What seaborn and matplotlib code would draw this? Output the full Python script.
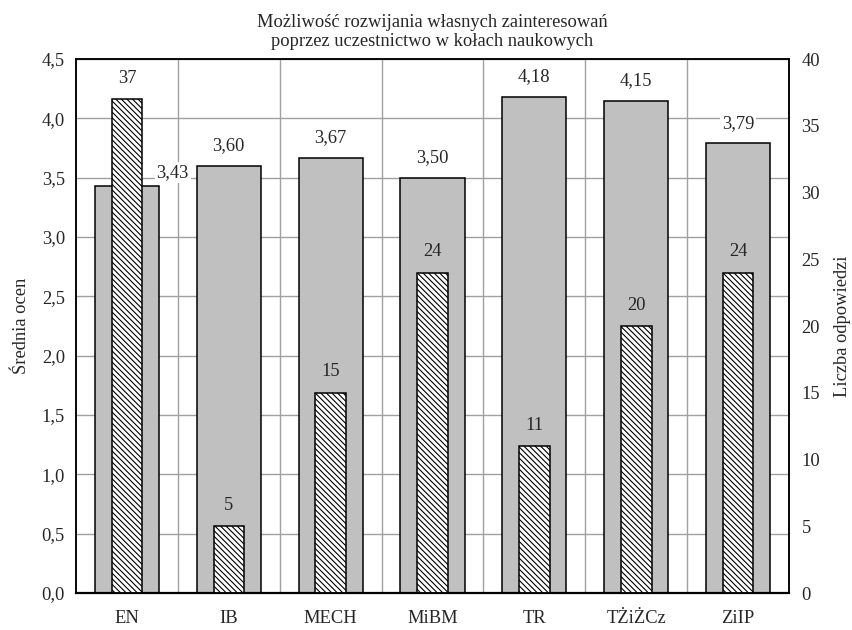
import numpy as np
import pandas as pd
import matplotlib
matplotlib.use('Agg')
import matplotlib.pyplot as plt
import seaborn as sns

# dane z wykresu
kierunki = ['EN', 'IB', 'MECH', 'MiBM', 'TR', 'TŻiŻCz', 'ZiIP']
srednie = [3.43, 3.60, 3.67, 3.50, 4.18, 4.15, 3.79]
liczby = [37, 5, 15, 24, 11, 20, 24]

df = pd.DataFrame({'kierunek': kierunki, 'srednia': srednie, 'liczba': liczby})

sns.set_style('white')
plt.rcParams['font.family'] = ['Liberation Serif', 'DejaVu Serif']
plt.rcParams['font.size'] = 13.3
plt.rcParams['hatch.linewidth'] = 0.8
plt.rcParams['hatch.color'] = 'black'

fig = plt.figure(figsize=(8.53, 6.30), dpi=100)
ax = fig.add_axes([0.0891, 0.0587, 0.8359, 0.8476])

ymax_l, ymax_r = 4.5, 40

sns.barplot(data=df, x='kierunek', y='srednia', order=kierunki, color='#c0c0c0',
            saturation=1, width=0.63, edgecolor='black', linewidth=1.1, ax=ax)
ax.set_ylim(0, ymax_l)
ax.set_xlim(-0.5, len(kierunki) - 0.5)
ax.set_yticks(np.arange(0, 4.51, 0.5))
ax.set_yticklabels([f'{v:.1f}'.replace('.', ',') for v in np.arange(0, 4.51, 0.5)])
ax.set_xticks(np.arange(len(kierunki)) + 0.5, minor=True)
ax.grid(True, axis='y', color='#a0a0a0', linewidth=1)
ax.grid(True, axis='x', which='minor', color='#a0a0a0', linewidth=1)
ax.grid(False, axis='x', which='major')
ax.set_axisbelow(True)
ax.set_xlabel('')
ax.set_ylabel('Średnia ocen', labelpad=8)
ax.tick_params(axis='both', which='both', length=0)
ax.tick_params(axis='y', pad=8)
ax.tick_params(axis='x', pad=12)

ax2 = ax.twinx()
sns.barplot(data=df, x='kierunek', y='liczba', order=kierunki, color='white',
            saturation=1, width=0.30, edgecolor='black', linewidth=1.1,
            hatch='\\\\\\\\\\\\', ax=ax2)
ax2.set_ylim(0, ymax_r)
ax2.set_xlim(-0.5, len(kierunki) - 0.5)
ax2.set_yticks(np.arange(0, 41, 5))
ax2.set_ylabel('Liczba odpowiedzi', labelpad=10)
ax2.tick_params(axis='y', length=0, pad=9)
ax2.grid(False)

for a in (ax, ax2):
    for s in a.spines.values():
        s.set_visible(True)
        s.set_color('black')
        s.set_linewidth(1.1)
ax.spines['bottom'].set_linewidth(1.6)

# etykiety wartosci
for i, (m, n) in enumerate(zip(srednie, liczby)):
    txt = f'{m:.2f}'.replace('.', ',')
    if n / ymax_r * ymax_l > m:
        # slupek liczby wyzszy - etykieta przesunieta w prawo
        ax.annotate(txt, (i, m), xytext=(33, 10), textcoords='offset points',
                    ha='center', va='center',
                    bbox=dict(facecolor='white', edgecolor='none', pad=1.5))
    else:
        ax.annotate(txt, (i, m), xytext=(0, 14.5), textcoords='offset points',
                    ha='center', va='center',
                    bbox=dict(facecolor='white', edgecolor='none', pad=1.5))
    ax2.annotate(str(n), (i, n), xytext=(0, 15), textcoords='offset points',
                 ha='center', va='center')

ax.set_title('Możliwość rozwijania własnych zainteresowań\npoprzez uczestnictwo w kołach naukowych',
             fontsize=13.3, pad=9.5, linespacing=1.15)

fig.savefig('out.png', dpi=100)
